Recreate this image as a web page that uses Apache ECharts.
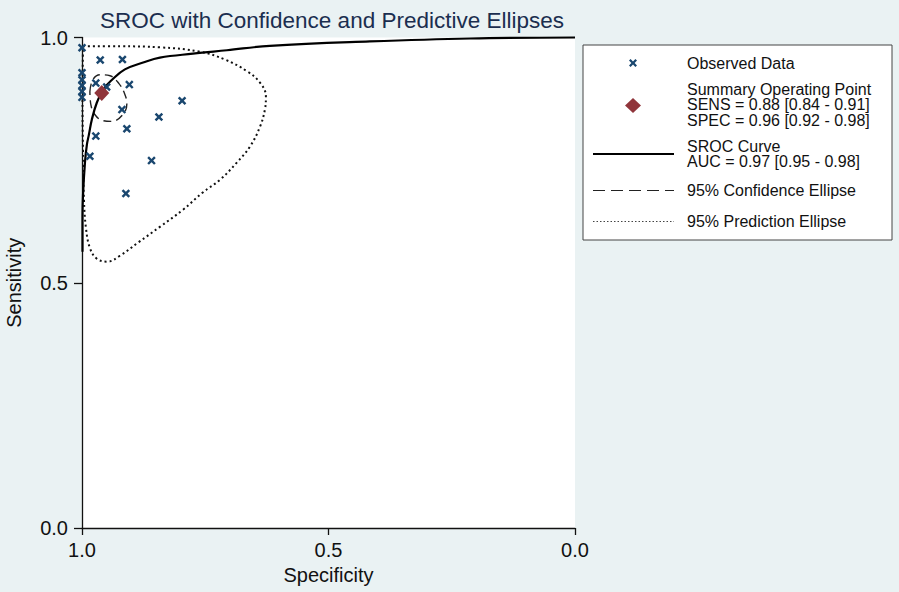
<!DOCTYPE html>
<html>
<head>
<meta charset="utf-8">
<script src="https://cdn.jsdelivr.net/npm/echarts@6/dist/echarts.min.js"></script>
<style>
html,body{margin:0;padding:0;background:#EAF2F3;}
#chart{width:899px;height:592px;}
</style>
</head>
<body>
<div id="chart"></div>
<script>
// Observed studies: [specificity, sensitivity]
var observedSpec = [1.000, 0.963, 0.918, 1.000, 1.000, 1.000, 1.000, 1.000, 0.972, 0.950, 0.904, 0.797, 0.919, 0.844, 0.909, 0.972, 0.984, 0.859, 0.911];
var observedSens = [0.979, 0.954, 0.955, 0.928, 0.914, 0.902, 0.890, 0.878, 0.907, 0.899, 0.904, 0.871, 0.853, 0.838, 0.814, 0.799, 0.758, 0.749, 0.682];

// Summary operating point
var summarySpec = [0.960];
var summarySens = [0.887];

// SROC curve
var srocSpec = [0.999, 0.999, 0.998, 0.994, 0.990, 0.986, 0.980, 0.970, 0.957, 0.939, 0.913, 0.876, 0.842, 0.775, 0.706, 0.619, 0.416, 0.213, 0.000];
var srocSens = [0.563, 0.635, 0.678, 0.745, 0.782, 0.802, 0.833, 0.867, 0.894, 0.914, 0.935, 0.949, 0.959, 0.967, 0.974, 0.983, 0.992, 0.998, 1.000];

// 95% confidence ellipse outline
var confSpec = [0.984, 0.978, 0.963, 0.943, 0.925, 0.913, 0.909, 0.917, 0.939, 0.959, 0.974, 0.982, 0.984];
var confSens = [0.890, 0.914, 0.924, 0.922, 0.906, 0.884, 0.865, 0.843, 0.829, 0.831, 0.843, 0.863, 0.890];

// 95% prediction ellipse outline
var predSpec = [0.998, 0.923, 0.842, 0.761, 0.710, 0.665, 0.639, 0.627, 0.629, 0.639, 0.659, 0.686, 0.720, 0.755, 0.795, 0.842, 0.886, 0.923, 0.949, 0.970, 0.984, 0.992, 0.996, 0.998, 0.999, 0.998];
var predSens = [0.982, 0.982, 0.980, 0.971, 0.955, 0.931, 0.908, 0.880, 0.853, 0.818, 0.778, 0.745, 0.710, 0.684, 0.649, 0.614, 0.582, 0.555, 0.543, 0.549, 0.571, 0.612, 0.669, 0.771, 0.873, 0.982];

// Axis ticks
var tickValues = [0.0, 0.5, 1.0];

// Legend texts
var legendObserved = 'Observed Data';
var legendSummary = ['Summary Operating Point', 'SENS = 0.88 [0.84 - 0.91]', 'SPEC = 0.96 [0.92 - 0.98]'];
var legendSroc = ['SROC Curve', 'AUC = 0.97 [0.95 - 0.98]'];
var legendConf = '95% Confidence Ellipse';
var legendPred = '95% Prediction Ellipse';

function zip(a, b) { return a.map(function (v, i) { return [v, b[i]]; }); }

var FONT = '"Liberation Sans", Arial, sans-serif';
var NAVY = '#1A476F';
var MAROON = '#90353B';
var XPATH = 'path://M0,2L2,0L5,3L8,0L10,2L7,5L10,8L8,10L5,7L2,10L0,8L3,5Z';

var chart = echarts.init(document.getElementById('chart'), null, { renderer: 'svg' });

var L = { x: 583, y: 45, w: 309, h: 195 };
var iconX = 633;
var textX = 687;
function T(x, y, s) {
  return { type: 'text', x: x, y: y, style: { text: s, fill: '#111', font: '16px ' + FONT, textVerticalAlign: 'middle', verticalAlign: 'middle' }, z: 102 };
}
// X-shaped legend icon as polygon (unit 10 box scaled to 8 px)
var xUnit = [[0,2],[2,0],[5,3],[8,0],[10,2],[7,5],[10,8],[8,10],[5,7],[2,10],[0,8],[3,5]];
var xIcon = xUnit.map(function (p) { return [iconX - 4 + p[0] * 0.8, 63 - 4 + p[1] * 0.8]; });

var option = {
  backgroundColor: '#EAF2F3',
  animation: false,
  title: {
    text: 'SROC with Confidence and Predictive Ellipses',
    left: 327,
    top: 4,
    textAlign: 'center',
    textStyle: { fontFamily: FONT, fontSize: 22.5, fontWeight: 'normal', color: '#1B2E4F' }
  },
  grid: { left: 82, right: 324, top: 37.5, bottom: 64, containLabel: false, outerBoundsMode: 'none',
    show: true, backgroundColor: '#FFFFFF', borderWidth: 0 },
  xAxis: {
    type: 'value', min: 0, max: 1, interval: 0.5, inverse: true,
    name: 'Specificity', nameLocation: 'middle', nameGap: 36,
    nameTextStyle: { fontFamily: FONT, fontSize: 20, color: '#111' },
    axisLine: { show: true, onZero: false, lineStyle: { color: '#111', width: 1.3 } },
    axisTick: { show: true, length: 7, lineStyle: { color: '#111', width: 1.3 } },
    axisLabel: { fontFamily: FONT, fontSize: 20, color: '#111', margin: 12,
      formatter: function (v) { return v.toFixed(1); } },
    splitLine: { show: false }
  },
  yAxis: {
    type: 'value', min: 0, max: 1, interval: 0.5,
    name: 'Sensitivity', nameLocation: 'middle', nameGap: 58,
    nameTextStyle: { fontFamily: FONT, fontSize: 20, color: '#111' },
    axisLine: { show: true, onZero: false, lineStyle: { color: '#111', width: 1.3 } },
    axisTick: { show: true, length: 8, lineStyle: { color: '#111', width: 1.3 } },
    axisLabel: { fontFamily: FONT, fontSize: 20, color: '#111', margin: 14,
      formatter: function (v) { return v.toFixed(1); } },
    splitLine: { show: false }
  },
  series: [
    {
      name: '95% Prediction Ellipse', type: 'line', data: zip(predSpec, predSens),
      symbol: 'none', smooth: 0.4, clip: false, z: 2,
      lineStyle: { color: '#111', width: 2, type: [2, 3] }
    },
    {
      name: '95% Confidence Ellipse', type: 'line', data: zip(confSpec, confSens),
      symbol: 'none', smooth: 0.4, clip: false, z: 2,
      lineStyle: { color: '#222', width: 1.4, type: [8, 5] }
    },
    {
      name: 'SROC Curve', type: 'line', data: zip(srocSpec, srocSens),
      symbol: 'none', smooth: 0.4, clip: false, z: 3,
      lineStyle: { color: '#000', width: 2.2 }
    },
    {
      name: 'Observed Data', type: 'scatter', data: zip(observedSpec, observedSens),
      symbol: XPATH, symbolSize: 8.5, clip: false, z: 4,
      itemStyle: { color: NAVY, opacity: 1 }
    },
    {
      name: 'Summary Operating Point', type: 'scatter', data: zip(summarySpec, summarySens),
      symbol: 'diamond', symbolSize: [15, 16], clip: false, z: 5,
      itemStyle: { color: MAROON, opacity: 1 }
    }
  ],
  graphic: [
    { type: 'rect', shape: { x: L.x, y: L.y, width: L.w, height: L.h },
      style: { fill: '#FFFFFF', stroke: '#444', lineWidth: 1 }, z: 100 },
    { type: 'polygon', shape: { points: xIcon }, style: { fill: NAVY }, z: 101 },
    T(textX, 63, legendObserved),
    { type: 'polygon', shape: { points: [[iconX, 98], [iconX + 8, 105.5], [iconX, 113], [iconX - 8, 105.5]] },
      style: { fill: MAROON }, z: 101 },
    T(textX, 89, legendSummary[0]),
    T(textX, 104.5, legendSummary[1]),
    T(textX, 120, legendSummary[2]),
    { type: 'line', shape: { x1: 593, y1: 154, x2: 674, y2: 154 }, style: { stroke: '#000', lineWidth: 2 }, z: 101 },
    T(textX, 146, legendSroc[0]),
    T(textX, 161.5, legendSroc[1]),
    { type: 'line', shape: { x1: 593, y1: 190.5, x2: 674, y2: 190.5 }, style: { stroke: '#222', lineWidth: 1.2, lineDash: [12, 6] }, z: 101 },
    T(textX, 190.5, legendConf),
    { type: 'line', shape: { x1: 593, y1: 221.5, x2: 674, y2: 221.5 }, style: { stroke: '#444', lineWidth: 1, lineDash: [1.5, 2] }, z: 101 },
    T(textX, 221.5, legendPred)
  ]
};
chart.setOption(option);
</script>
</body>
</html>
